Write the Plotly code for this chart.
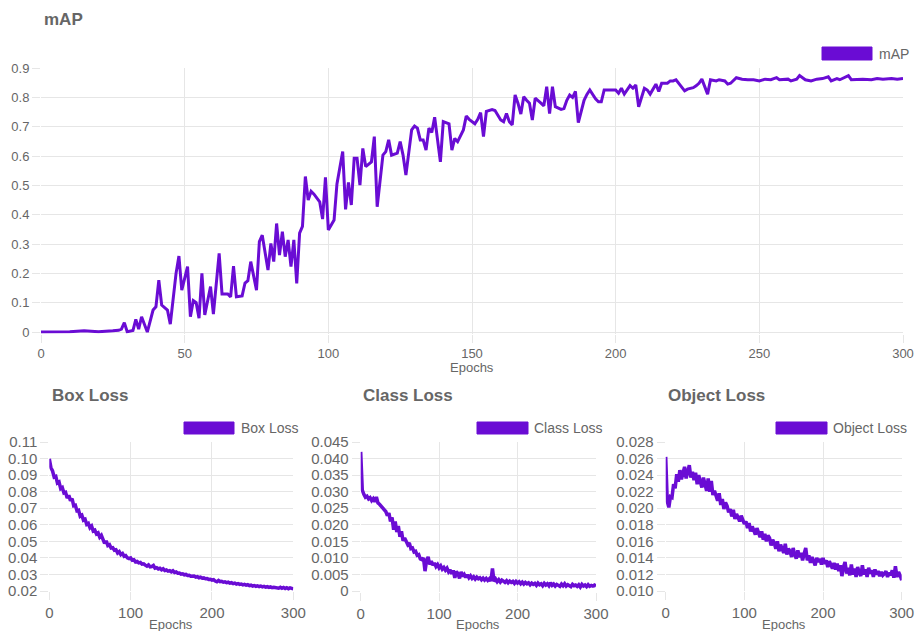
import plotly.graph_objects as go

# ---------------- data ----------------
map_epochs = [0, 5, 10, 15, 18, 20, 25, 27, 28, 29,
              30, 32, 33, 34, 35, 37, 39, 40, 41, 42,
              44, 45, 47, 48, 49, 51, 52, 53, 54, 55,
              56, 57, 59, 60, 62, 63, 65, 66, 67, 68,
              70, 71, 72, 73, 75, 76, 77, 79, 80, 81,
              82, 83, 84, 85, 86, 87, 88, 89, 90, 91,
              92, 93, 94, 95, 97, 98, 99, 100, 102, 103,
              105, 106, 107, 108, 109, 110, 111, 112, 113, 115,
              116, 117, 119, 120, 121, 122, 124, 125, 126, 127,
              129, 130, 131, 132, 133, 134, 135, 136, 137, 138,
              139, 140, 142, 143, 144, 145, 147, 148, 149, 151,
              152, 153, 154, 155, 157, 158, 160, 161, 162, 163,
              164, 165, 166, 167, 168, 169, 170, 171, 172, 174,
              175, 176, 177, 178, 179, 181, 182, 183, 184, 185,
              186, 187, 189, 190, 191, 193, 194, 195, 196, 198,
              200, 201, 202, 203, 205, 206, 207, 208, 210, 211,
              212, 214, 215, 216, 218, 219, 220, 221, 222, 224,
              225, 227, 228, 229, 230, 231, 232, 233, 235, 236,
              238, 239, 240, 242, 244, 246, 248, 250, 252, 254,
              256, 257, 260, 261, 263, 264, 266, 268, 270, 272,
              274, 275, 277, 278, 281, 282, 284, 286, 289, 291,
              293, 296, 298, 300]
map_values = [0.000, 0.000, 0.001, 0.004, 0.002, 0.001, 0.004, 0.006, 0.010, 0.032,
              0.001, 0.005, 0.043, 0.010, 0.052, 0.000, 0.075, 0.086, 0.177, 0.092,
              0.075, 0.027, 0.200, 0.259, 0.143, 0.223, 0.052, 0.107, 0.100, 0.047,
              0.200, 0.058, 0.155, 0.061, 0.268, 0.130, 0.130, 0.120, 0.225, 0.120,
              0.123, 0.167, 0.175, 0.240, 0.143, 0.308, 0.330, 0.211, 0.302, 0.240,
              0.370, 0.262, 0.342, 0.257, 0.314, 0.223, 0.314, 0.166, 0.337, 0.360,
              0.530, 0.450, 0.480, 0.470, 0.444, 0.385, 0.527, 0.348, 0.382, 0.505,
              0.615, 0.418, 0.510, 0.433, 0.592, 0.592, 0.501, 0.626, 0.564, 0.580,
              0.666, 0.427, 0.603, 0.615, 0.655, 0.603, 0.610, 0.649, 0.603, 0.535,
              0.689, 0.702, 0.695, 0.655, 0.655, 0.620, 0.695, 0.680, 0.732, 0.655,
              0.580, 0.717, 0.710, 0.620, 0.660, 0.649, 0.689, 0.736, 0.725, 0.710,
              0.725, 0.748, 0.666, 0.752, 0.758, 0.755, 0.723, 0.717, 0.745, 0.717,
              0.706, 0.808, 0.780, 0.743, 0.802, 0.790, 0.780, 0.723, 0.797, 0.780,
              0.771, 0.836, 0.745, 0.836, 0.768, 0.759, 0.762, 0.790, 0.808, 0.800,
              0.820, 0.714, 0.790, 0.810, 0.825, 0.795, 0.785, 0.785, 0.825, 0.825,
              0.825, 0.814, 0.831, 0.811, 0.840, 0.831, 0.842, 0.768, 0.831, 0.825,
              0.811, 0.845, 0.820, 0.848, 0.848, 0.856, 0.856, 0.860, 0.848, 0.822,
              0.828, 0.833, 0.839, 0.848, 0.862, 0.836, 0.811, 0.860, 0.856, 0.860,
              0.856, 0.845, 0.848, 0.867, 0.862, 0.860, 0.860, 0.856, 0.862, 0.860,
              0.867, 0.860, 0.862, 0.856, 0.862, 0.874, 0.860, 0.856, 0.862, 0.864,
              0.870, 0.856, 0.864, 0.860, 0.874, 0.860, 0.862, 0.862, 0.860, 0.864,
              0.862, 0.864, 0.862, 0.864]

loss_epochs = [0, 1] + list(range(2, 301, 2))

box_loss = [0.0998, 0.0965, 0.0945, 0.0925, 0.0888, 0.0892, 0.0852, 0.0858, 0.0818, 0.0825,
            0.0792, 0.0796, 0.0762, 0.0778, 0.0745, 0.0758, 0.0715, 0.0718, 0.0685, 0.0688,
            0.0652, 0.0658, 0.0628, 0.0633, 0.0602, 0.0608, 0.0582, 0.0592, 0.0562, 0.0567,
            0.0545, 0.0551, 0.0525, 0.0536, 0.0505, 0.0488, 0.0503, 0.0475, 0.0480, 0.0460,
            0.0462, 0.0446, 0.0449, 0.0430, 0.0438, 0.0420, 0.0427, 0.0410, 0.0414, 0.0400,
            0.0396, 0.0400, 0.0386, 0.0389, 0.0376, 0.0379, 0.0370, 0.0372, 0.0362, 0.0364,
            0.0356, 0.0350, 0.0358, 0.0346, 0.0348, 0.0354, 0.0338, 0.0341, 0.0333, 0.0337,
            0.0328, 0.0334, 0.0324, 0.0327, 0.0320, 0.0323, 0.0316, 0.0322, 0.0312, 0.0315,
            0.0308, 0.0309, 0.0302, 0.0304, 0.0298, 0.0300, 0.0294, 0.0295, 0.0289, 0.0291,
            0.0290, 0.0284, 0.0287, 0.0280, 0.0283, 0.0277, 0.0279, 0.0274, 0.0275, 0.0270,
            0.0271, 0.0266, 0.0268, 0.0260, 0.0256, 0.0264, 0.0256, 0.0258, 0.0253, 0.0255,
            0.0250, 0.0253, 0.0247, 0.0250, 0.0245, 0.0248, 0.0242, 0.0245, 0.0240, 0.0242,
            0.0237, 0.0240, 0.0235, 0.0238, 0.0232, 0.0235, 0.0230, 0.0233, 0.0228, 0.0231,
            0.0227, 0.0230, 0.0225, 0.0228, 0.0223, 0.0226, 0.0222, 0.0225, 0.0220, 0.0223,
            0.0220, 0.0222, 0.0217, 0.0222, 0.0216, 0.0221, 0.0215, 0.0220, 0.0214, 0.0219,
            0.0215, 0.0213]

class_loss = [0.0420, 0.0350, 0.0305, 0.0292, 0.0283, 0.0286, 0.0278, 0.0282, 0.0273, 0.0279,
              0.0270, 0.0284, 0.0266, 0.0262, 0.0257, 0.0250, 0.0245, 0.0240, 0.0228, 0.0235,
              0.0210, 0.0222, 0.0185, 0.0210, 0.0178, 0.0196, 0.0164, 0.0180, 0.0152, 0.0160,
              0.0150, 0.0140, 0.0145, 0.0128, 0.0130, 0.0118, 0.0120, 0.0108, 0.0110, 0.0097,
              0.0095, 0.0100, 0.0060, 0.0092, 0.0103, 0.0080, 0.0090, 0.0078, 0.0085, 0.0074,
              0.0080, 0.0070, 0.0076, 0.0066, 0.0071, 0.0063, 0.0069, 0.0058, 0.0064, 0.0052,
              0.0062, 0.0040, 0.0059, 0.0052, 0.0038, 0.0058, 0.0044, 0.0050, 0.0041, 0.0049,
              0.0040, 0.0046, 0.0038, 0.0043, 0.0036, 0.0042, 0.0037, 0.0040, 0.0034, 0.0039,
              0.0033, 0.0038, 0.0032, 0.0037, 0.0030, 0.0068, 0.0029, 0.0036, 0.0028, 0.0034,
              0.0027, 0.0033, 0.0030, 0.0026, 0.0031, 0.0025, 0.0030, 0.0026, 0.0029, 0.0023,
              0.0029, 0.0024, 0.0028, 0.0022, 0.0027, 0.0021, 0.0026, 0.0022, 0.0025, 0.0019,
              0.0024, 0.0020, 0.0023, 0.0017, 0.0024, 0.0019, 0.0022, 0.0016, 0.0023, 0.0018,
              0.0022, 0.0016, 0.0025, 0.0017, 0.0021, 0.0015, 0.0020, 0.0018, 0.0014, 0.0021,
              0.0016, 0.0022, 0.0015, 0.0019, 0.0017, 0.0013, 0.0020, 0.0016, 0.0018, 0.0014,
              0.0019, 0.0012, 0.0020, 0.0015, 0.0018, 0.0013, 0.0019, 0.0014, 0.0017, 0.0015,
              0.0018, 0.0014]

object_loss = [0.0262, 0.0212, 0.0208, 0.0201, 0.0214, 0.0213, 0.0229, 0.0224, 0.0241, 0.0232,
               0.0246, 0.0235, 0.0243, 0.0250, 0.0236, 0.0247, 0.0252, 0.0237, 0.0244, 0.0234,
               0.0243, 0.0229, 0.0240, 0.0232, 0.0225, 0.0237, 0.0229, 0.0221, 0.0236, 0.0220,
               0.0233, 0.0216, 0.0221, 0.0213, 0.0209, 0.0218, 0.0204, 0.0211, 0.0199, 0.0207,
               0.0203, 0.0195, 0.0199, 0.0190, 0.0198, 0.0187, 0.0193, 0.0189, 0.0184, 0.0191,
               0.0186, 0.0181, 0.0184, 0.0176, 0.0182, 0.0172, 0.0178, 0.0174, 0.0168, 0.0176,
               0.0171, 0.0165, 0.0172, 0.0162, 0.0169, 0.0160, 0.0167, 0.0164, 0.0155, 0.0162,
               0.0158, 0.0151, 0.0160, 0.0148, 0.0156, 0.0152, 0.0146, 0.0157, 0.0144, 0.0151,
               0.0148, 0.0141, 0.0152, 0.0144, 0.0139, 0.0149, 0.0141, 0.0146, 0.0137, 0.0145,
               0.0152, 0.0137, 0.0143, 0.0134, 0.0141, 0.0136, 0.0131, 0.0140, 0.0135, 0.0139,
               0.0132, 0.0140, 0.0133, 0.0137, 0.0129, 0.0136, 0.0131, 0.0127, 0.0134, 0.0126,
               0.0133, 0.0124, 0.0131, 0.0118, 0.0129, 0.0135, 0.0121, 0.0128, 0.0119, 0.0132,
               0.0120, 0.0127, 0.0117, 0.0129, 0.0122, 0.0118, 0.0131, 0.0120, 0.0126, 0.0117,
               0.0128, 0.0121, 0.0125, 0.0117, 0.0126, 0.0120, 0.0124, 0.0118, 0.0123, 0.0119,
               0.0121, 0.0124, 0.0117, 0.0122, 0.0119, 0.0125, 0.0116, 0.0130, 0.0117, 0.0123,
               0.0119, 0.0113]

map_xticks = [0, 50, 100, 150, 200, 250, 300]
loss_xticks = [0, 100, 200, 300]
map_yticks = [0, 0.1, 0.2, 0.3, 0.4, 0.5, 0.6, 0.7, 0.8, 0.9]
map_ylabels = ["0", "0.1", "0.2", "0.3", "0.4", "0.5", "0.6", "0.7", "0.8", "0.9"]
box_yticks = [0.02, 0.03, 0.04, 0.05, 0.06, 0.07, 0.08, 0.09, 0.10, 0.11]
box_ylabels = ["0.02", "0.03", "0.04", "0.05", "0.06", "0.07", "0.08", "0.09", "0.10", "0.11"]
class_yticks = [0, 0.005, 0.010, 0.015, 0.020, 0.025, 0.030, 0.035, 0.040, 0.045]
class_ylabels = ["0", "0.005", "0.010", "0.015", "0.020", "0.025", "0.030", "0.035", "0.040", "0.045"]
object_yticks = [0.010, 0.012, 0.014, 0.016, 0.018, 0.020, 0.022, 0.024, 0.026, 0.028]
object_ylabels = ["0.010", "0.012", "0.014", "0.016", "0.018", "0.020", "0.022", "0.024", "0.026", "0.028"]

# ---------------- style / layout ----------------
W, H = 918, 631
COLOR = "#6a0cd4"
GRID = "#e6e6e6"
TXT = "#666666"
FONT = "Liberation Sans, Arial, Helvetica, sans-serif"


def px_x(p):
    return p / W


def px_y(p):
    return 1 - p / H


fig = go.Figure()

panels = [
    ("x", "y", map_epochs, map_values, "mAP", (41, 903), (68, 333.5), [-0.005, 0.9], map_yticks, map_ylabels, map_xticks, 13, 3),
    ("x2", "y2", loss_epochs, box_loss, "Box Loss", (49.3, 293.3), (442, 591), [0.02, 0.11], box_yticks, box_ylabels, loss_xticks, 15, 3.5),
    ("x3", "y3", loss_epochs, class_loss, "Class Loss", (360.7, 596), (442, 592), [-0.0003, 0.045], class_yticks, class_ylabels, loss_xticks, 15, 3.5),
    ("x4", "y4", loss_epochs, object_loss, "Object Loss", (665.7, 901.7), (442, 591), [0.010, 0.028], object_yticks, object_ylabels, loss_xticks, 15, 3.5),
]

layout_axes = {}
for xa, ya, xd, yd, name, (x0, x1), (y0, y1), yr, yt, yl, xt, tf, lw in panels:
    fig.add_trace(go.Scatter(x=xd, y=yd, mode="lines", name=name, xaxis=xa, yaxis=ya,
                             line=dict(color=COLOR, width=lw), showlegend=False,
                             hoverinfo="skip"))
    xkey = "xaxis" if xa == "x" else "xaxis" + xa[1:]
    ykey = "yaxis" if ya == "y" else "yaxis" + ya[1:]
    layout_axes[xkey] = dict(domain=[px_x(x0), px_x(x1)], anchor=ya, range=[0, 300],
                             tickvals=xt, ticktext=[str(v) for v in xt],
                             showgrid=True, gridcolor=GRID, gridwidth=1, zeroline=False,
                             ticks="outside", ticklen=8, tickcolor=GRID, showline=False,
                             automargin=False,
                             tickfont=dict(family=FONT, size=tf, color=TXT), fixedrange=True)
    layout_axes[ykey] = dict(domain=[px_y(y1), px_y(y0)], anchor=xa, range=yr,
                             tickvals=yt, ticktext=yl,
                             showgrid=True, gridcolor=GRID, gridwidth=1, zeroline=False,
                             ticks="outside", ticklen=8, tickcolor=GRID, showline=False,
                             automargin=False,
                             tickfont=dict(family=FONT, size=tf, color=TXT), fixedrange=True)

fig.update_layout(**layout_axes)

annotations = []
shapes = []

# titles
for text, x, y in [("mAP", 42, 20), ("Box Loss", 50, 395), ("Class Loss", 361, 395), ("Object Loss", 666, 395)]:
    annotations.append(dict(text="<b>%s</b>" % text, x=px_x(x), y=px_y(y), xref="paper", yref="paper",
                            xanchor="left", yanchor="middle", showarrow=False,
                            font=dict(family=FONT, size=17, color=TXT)))

# legends (coloured box + label)
for text, bx0, bx1, by0, by1, tx in [("mAP", 822, 872, 47, 60, 877),
                                     ("Box Loss", 184, 234, 422, 434, 239),
                                     ("Class Loss", 477, 528, 422, 434, 532),
                                     ("Object Loss", 776, 827, 422, 434, 831)]:
    shapes.append(dict(type="rect", xref="paper", yref="paper",
                       x0=px_x(bx0), x1=px_x(bx1), y0=px_y(by1), y1=px_y(by0),
                       fillcolor=COLOR, line=dict(color=COLOR, width=1)))
    annotations.append(dict(text=text, x=px_x(tx), y=px_y((by0 + by1) / 2), xref="paper", yref="paper",
                            xanchor="left", yanchor="middle", showarrow=False,
                            font=dict(family=FONT, size=14, color=TXT)))

# axis titles
for x, y in [(472, 367), (171, 624), (478, 624), (784, 624)]:
    annotations.append(dict(text="Epochs", x=px_x(x), y=px_y(y), xref="paper", yref="paper",
                            xanchor="center", yanchor="middle", showarrow=False,
                            font=dict(family=FONT, size=13, color=TXT)))

fig.update_layout(width=W, height=H, autosize=False, margin=dict(l=0, r=0, t=0, b=0, pad=0, autoexpand=False),
                  paper_bgcolor="white", plot_bgcolor="white",
                  annotations=annotations, shapes=shapes, showlegend=False)

fig.write_html("out.html", config={"responsive": False, "displayModeBar": False},
               post_script="document.body.style.margin='0';document.body.style.overflow='hidden';")
